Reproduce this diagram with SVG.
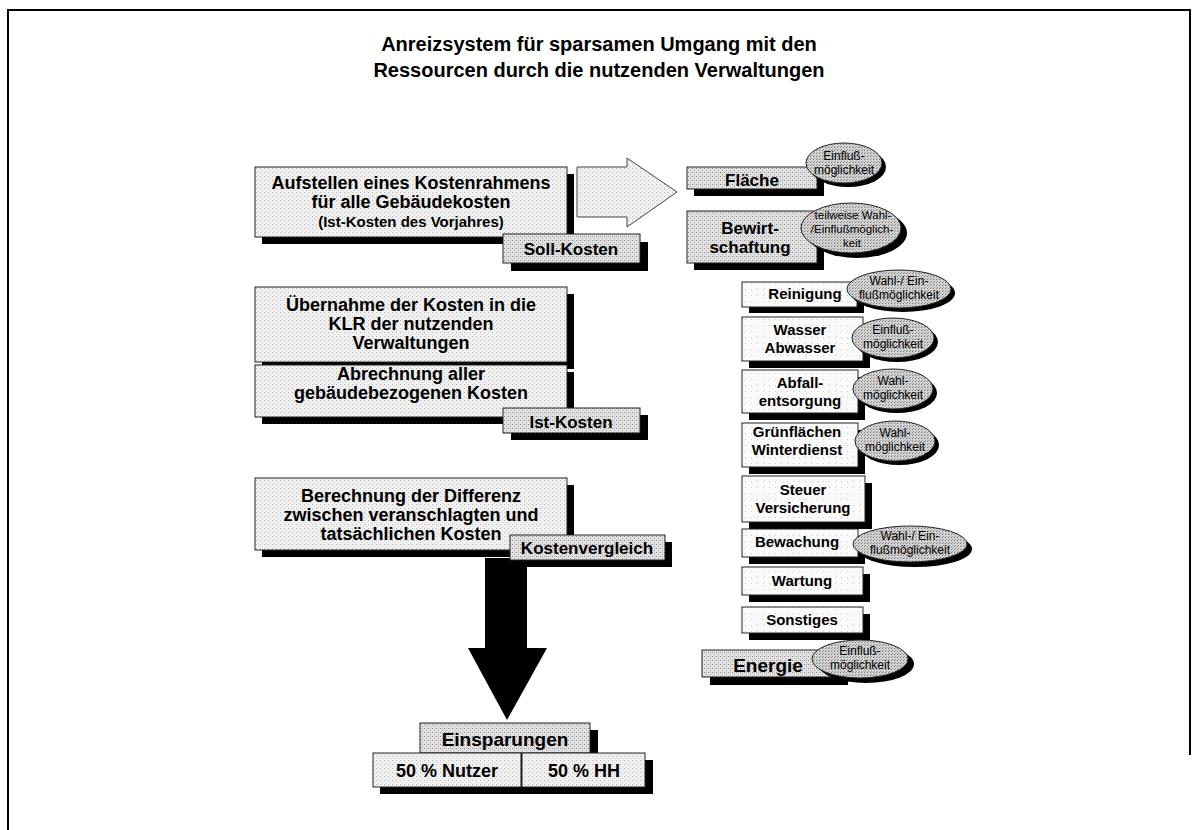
<svg xmlns="http://www.w3.org/2000/svg" width="1197" height="830" viewBox="0 0 1197 830">
<defs>
<pattern id="pL" width="4" height="4" patternUnits="userSpaceOnUse"><rect width="4" height="4" fill="#f1f1f1"/><rect x="0" y="0" width="1" height="1" fill="#b5b5b5"/><rect x="2" y="2" width="1" height="1" fill="#d0d0d0"/></pattern>
<pattern id="pM" width="4" height="4" patternUnits="userSpaceOnUse"><rect width="4" height="4" fill="#e2e2e2"/><rect x="0" y="0" width="1" height="1" fill="#8a8a8a"/><rect x="2" y="2" width="1" height="1" fill="#a8a8a8"/><rect x="2" y="0" width="1" height="1" fill="#c0c0c0"/></pattern>
<pattern id="pE" width="3" height="3" patternUnits="userSpaceOnUse"><rect width="3" height="3" fill="#d2d2d2"/><rect x="0" y="0" width="1" height="1" fill="#7a7a7a"/><rect x="1" y="2" width="1" height="1" fill="#9a9a9a"/></pattern>
<pattern id="pW" width="6" height="6" patternUnits="userSpaceOnUse"><rect width="6" height="6" fill="#fafafa"/><rect x="1" y="1" width="1" height="1" fill="#c8c8c8"/></pattern>
</defs>
<style>
.sh{fill:#000}
.bl{fill:url(#pL);stroke:#222;stroke-width:1}
.bm{fill:url(#pM);stroke:#222;stroke-width:1}
.bw{fill:url(#pW);stroke:#222;stroke-width:1}
.el{fill:url(#pE);stroke:#222;stroke-width:1}
text{font-family:"Liberation Sans",Arial,sans-serif;font-weight:bold;text-anchor:middle;fill:#000}
.t18{font-size:18px}
.t17{font-size:17px}
.t15{font-size:15px}
.t19{font-size:19px}
.e{font-size:12px;font-weight:normal}
.e2{font-size:11.5px;font-weight:normal}
</style>
<rect width="1197" height="830" fill="#fff"/>
<g id="frame" fill="none" stroke="#000" stroke-width="2">
<path d="M8,830 V10 H1190 V755"/>
</g>
<g id="title">
<text x="599" y="51" style="font-size:20px">Anreizsystem für sparsamen Umgang mit den</text>
<text x="599" y="77" style="font-size:20px">Ressourcen durch die nutzenden Verwaltungen</text>
</g>
<g id="connectors">
<polygon points="577,167 627,167 627,158 677,192 627,227 627,217 577,217" fill="url(#pL)" stroke="#444" stroke-width="1"/>
<polygon points="485,558 527,558 527,648 547,648 507,720 468,648 485,648" fill="#000"/>
</g>
<g id="kostenrahmen">
<rect class="sh" x="262" y="174" width="312" height="70"/>
<rect class="bl" x="255" y="167" width="312" height="70"/>
<text class="t18" x="411" y="189">Aufstellen eines Kostenrahmens</text>
<text class="t18" x="411" y="208">für alle Gebäudekosten</text>
<text class="t15" x="411" y="227">(Ist-Kosten des Vorjahres)</text>
</g>
<g id="soll">
<rect class="sh" x="511" y="242" width="137" height="29"/>
<rect class="bm" x="503" y="234" width="137" height="29"/>
<text class="t17" x="571" y="255">Soll-Kosten</text>
</g>
<g id="uebernahme">
<rect class="sh" x="262" y="294" width="312" height="75"/>
<rect class="bl" x="255" y="287" width="312" height="75"/>
<text class="t18" x="411" y="311">Übernahme der Kosten in die</text>
<text class="t18" x="411" y="330">KLR der nutzenden</text>
<text class="t18" x="411" y="349">Verwaltungen</text>
</g>
<g id="abrechnung">
<rect class="sh" x="262" y="372" width="312" height="52"/>
<rect class="bl" x="255" y="365" width="312" height="52"/>
<text class="t18" x="411" y="380">Abrechnung aller</text>
<text class="t18" x="411" y="399">gebäudebezogenen Kosten</text>
</g>
<g id="ist">
<rect class="sh" x="511" y="415" width="137" height="25"/>
<rect class="bm" x="503" y="408" width="137" height="25"/>
<text class="t17" x="571" y="428">Ist-Kosten</text>
</g>
<g id="berechnung">
<rect class="sh" x="262" y="485" width="312" height="72"/>
<rect class="bl" x="255" y="478" width="312" height="72"/>
<text class="t18" x="411" y="502">Berechnung der Differenz</text>
<text class="t18" x="411" y="521">zwischen veranschlagten und</text>
<text class="t18" x="411" y="540">tatsächlichen Kosten</text>
</g>
<g id="kostenvergleich">
<rect class="sh" x="517" y="542" width="155" height="25"/>
<rect class="bm" x="510" y="535" width="155" height="25"/>
<text class="t17" x="587" y="554">Kostenvergleich</text>
</g>
<g id="einsparungen">
<rect class="sh" x="428" y="730" width="170" height="30"/>
<rect class="bm" x="420" y="723" width="170" height="30"/>
<text class="t19" x="505" y="746">Einsparungen</text>
</g>
<g id="anteile">
<rect class="sh" x="380" y="760" width="273" height="34"/>
<rect class="bl" x="373" y="753" width="148" height="34"/>
<rect class="bl" x="522" y="753" width="123" height="34"/>
<text class="t18" x="447" y="777">50 % Nutzer</text>
<text class="t18" x="584" y="777">50 % HH</text>
</g>
<g id="flaeche">
<rect class="sh" x="694" y="174" width="130" height="22"/>
<rect class="bm" x="687" y="167" width="130" height="22"/>
<text class="t17" x="752" y="186">Fläche</text>
<ellipse class="sh" cx="848" cy="167" rx="38" ry="20"/>
<ellipse class="el" cx="844" cy="163" rx="38" ry="20"/>
<text class="e" x="844" y="160">Einfluß-</text>
<text class="e" x="844" y="174">möglichkeit</text>
</g>
<g id="bewirtschaftung">
<rect class="sh" x="694" y="218" width="130" height="52"/>
<rect class="bm" x="687" y="211" width="130" height="52"/>
<text class="t17" x="750" y="234">Bewirt-</text>
<text class="t17" x="750" y="253">schaftung</text>
<ellipse class="sh" cx="857" cy="233" rx="50" ry="25"/>
<ellipse class="el" cx="851" cy="228" rx="50" ry="25"/>
<text class="e2" x="853" y="219">teilweise  Wahl-</text>
<text class="e2" x="852" y="233">/Einflußmöglich-</text>
<text class="e2" x="852" y="247">keit</text>
</g>
<g id="reinigung">
<rect class="sh" x="749" y="288" width="115" height="25"/>
<rect class="bw" x="742" y="282" width="115" height="25"/>
<text class="t15" x="805" y="299">Reinigung</text>
<ellipse class="sh" cx="903" cy="293" rx="52" ry="19"/>
<ellipse class="el" cx="899" cy="289" rx="52" ry="19"/>
<text class="e" x="899" y="285">Wahl-/ Ein-</text>
<text class="e" x="899" y="299">flußmöglichkeit</text>
</g>
<g id="wasser">
<rect class="sh" x="749" y="324" width="121" height="44"/>
<rect class="bw" x="742" y="317" width="121" height="44"/>
<text class="t15" x="800" y="335">Wasser</text>
<text class="t15" x="800" y="353">Abwasser</text>
<ellipse class="sh" cx="897" cy="342" rx="41" ry="20"/>
<ellipse class="el" cx="893" cy="338" rx="41" ry="20"/>
<text class="e" x="893" y="334">Einfluß-</text>
<text class="e" x="893" y="348">möglichkeit</text>
</g>
<g id="abfall">
<rect class="sh" x="749" y="377" width="116" height="43"/>
<rect class="bw" x="742" y="370" width="116" height="43"/>
<text class="t15" x="800" y="388">Abfall-</text>
<text class="t15" x="800" y="406">entsorgung</text>
<ellipse class="sh" cx="897" cy="393" rx="40" ry="20"/>
<ellipse class="el" cx="893" cy="389" rx="40" ry="20"/>
<text class="e" x="893" y="385">Wahl-</text>
<text class="e" x="893" y="399">möglichkeit</text>
</g>
<g id="gruenflaechen">
<rect class="sh" x="749" y="430" width="116" height="44"/>
<rect class="bw" x="742" y="423" width="116" height="44"/>
<text class="t15" x="797" y="437">Grünflächen</text>
<text class="t15" x="797" y="455">Winterdienst</text>
<ellipse class="sh" cx="899" cy="445" rx="40" ry="20"/>
<ellipse class="el" cx="895" cy="441" rx="40" ry="20"/>
<text class="e" x="895" y="437">Wahl-</text>
<text class="e" x="895" y="451">möglichkeit</text>
</g>
<g id="steuer">
<rect class="sh" x="749" y="483" width="123" height="46"/>
<rect class="bw" x="742" y="476" width="123" height="46"/>
<text class="t15" x="803" y="495">Steuer</text>
<text class="t15" x="803" y="513">Versicherung</text>
</g>
<g id="bewachung">
<rect class="sh" x="749" y="536" width="116" height="28"/>
<rect class="bw" x="742" y="529" width="116" height="28"/>
<text class="t15" x="797" y="547">Bewachung</text>
<ellipse class="sh" cx="915" cy="549" rx="57" ry="18"/>
<ellipse class="el" cx="910" cy="544" rx="57" ry="18"/>
<text class="e" x="910" y="540">Wahl-/ Ein-</text>
<text class="e" x="910" y="554">flußmöglichkeit</text>
</g>
<g id="wartung">
<rect class="sh" x="749" y="574" width="121" height="28"/>
<rect class="bw" x="742" y="567" width="121" height="28"/>
<text class="t15" x="802" y="586">Wartung</text>
</g>
<g id="sonstiges">
<rect class="sh" x="749" y="614" width="121" height="26"/>
<rect class="bw" x="742" y="607" width="121" height="26"/>
<text class="t15" x="802" y="625">Sonstiges</text>
</g>
<g id="energie">
<rect class="sh" x="710" y="658" width="138" height="27"/>
<rect class="bm" x="702" y="650" width="138" height="27"/>
<text class="t19" x="768" y="672">Energie</text>
<ellipse class="sh" cx="866" cy="664" rx="48" ry="19"/>
<ellipse class="el" cx="860" cy="659" rx="48" ry="19"/>
<text class="e" x="860" y="655">Einfluß-</text>
<text class="e" x="860" y="669">möglichkeit</text>
</g>
</svg>
